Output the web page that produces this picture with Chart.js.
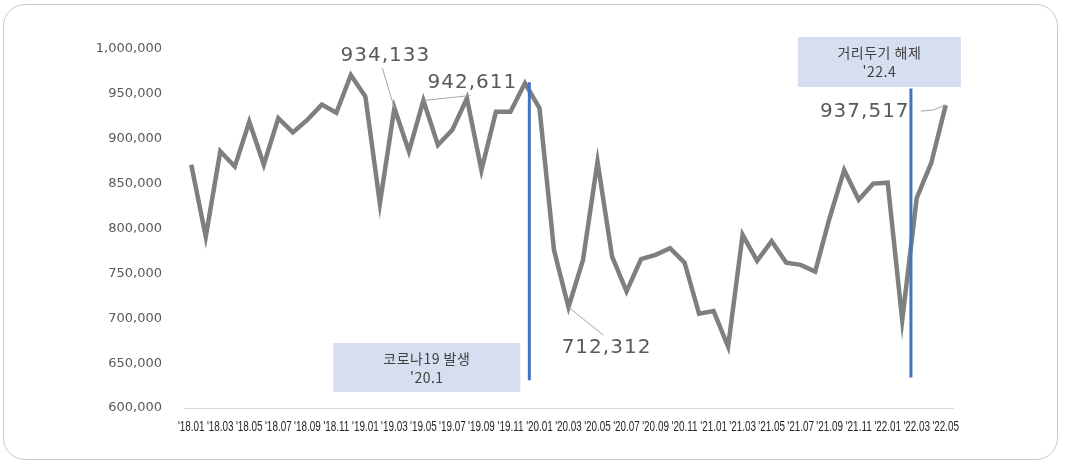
<!DOCTYPE html>
<html lang="ko">
<head>
<meta charset="UTF-8">
<title>월별 추이</title>
<style>
  body { margin: 0; background: #fff; }
  .wrap { position: relative; width: 1065px; height: 466px; }
  .frame {
    position: absolute; left: 3px; top: 4px; width: 1055px; height: 456px;
    border: 1px solid #c9c9c9; border-radius: 22px; box-sizing: border-box;
  }
  canvas { position: absolute; left: 0; top: 0; }
</style>
</head>
<body>
<div class="wrap">
  <div class="frame"></div>
  <canvas id="chart" width="1065" height="466"></canvas>
</div>
<script src="https://cdn.jsdelivr.net/npm/chart.js"></script>
<script>
// months '18.01 .. '22.05
const months = [];
for (let y = 18; y <= 22; y++) {
  for (let m = 1; m <= 12; m++) {
    if (y === 22 && m > 5) break;
    months.push("'" + y + '.' + String(m).padStart(2, '0'));
  }
}

const values = [
  871000, 791000, 886000, 869000, 919000, 871000, 923000, 907000, 921000, 938000, 929000, 971000,
  947000, 828000, 934133, 886000, 942611, 893000, 910000, 945000, 865000, 930000, 930000, 962000,
  934000, 776000, 712312, 765000, 874500, 769000, 730000, 766000, 770600, 778000, 762000, 705000,
  708000, 668500, 793000, 764000, 786000, 762000, 759500, 752000, 812000, 865000, 832000, 850000,
  851000, 698000, 834000, 873000, 937517
];

// callouts: point index, text, text offset from point, leader line points (offsets)
const callouts = [
  { i: 14, text: '934,133', dx: -9, dy: -52, leader: [[-12, -40], [0, 0]] },
  { i: 16, text: '942,611', dx: 49, dy: -18, leader: [[0, 0], [47, -5]] },
  { i: 26, text: '712,312', dx: 38, dy: 41, leader: [[0, 0], [35, 28]] },
  { i: 52, text: '937,517', dx: -81, dy: 7, leader: [[-25, 6], [-13, 5], [0, 0]] }
];

// event markers: x position (index), top/bottom values, box text
const events = [
  { x: 23.3, top: 963000, bottom: 631000, lines: ['코로나19 발생', "'20.1"], box: [-196, 343, 187, 49] },
  { x: 49.6, top: 956000, bottom: 634000, lines: ['거리두기 해제', "'22.4"], box: [-113, 37, 163, 50] }
];

const annotate = {
  id: 'annotate',
  afterDatasetsDraw(chart) {
    const ctx = chart.ctx;
    const xs = chart.scales.x, ys = chart.scales.y;
    const meta = chart.getDatasetMeta(0);
    ctx.save();

    events.forEach(ev => {
      const px = xs.getPixelForValue(ev.x);
      ctx.fillStyle = '#d6dff0';
      ctx.fillRect(px + ev.box[0], ev.box[1], ev.box[2], ev.box[3]);
      ctx.fillStyle = '#404040';
      ctx.font = '14px "Noto Sans CJK KR", "Noto Sans", sans-serif';
      ctx.letterSpacing = '0.5px';
      ctx.textAlign = 'center';
      ctx.textBaseline = 'middle';
      const cx = px + ev.box[0] + ev.box[2] / 2;
      const cy = ev.box[1] + ev.box[3] / 2;
      ctx.fillText(ev.lines[0], cx, cy - 9);
      ctx.fillText(ev.lines[1], cx, cy + 10);
      ctx.letterSpacing = '0px';
      ctx.strokeStyle = '#4472c4';
      ctx.lineWidth = 3;
      ctx.beginPath();
      ctx.moveTo(px, ys.getPixelForValue(ev.top));
      ctx.lineTo(px, ys.getPixelForValue(ev.bottom));
      ctx.stroke();
    });

    callouts.forEach(c => {
      const pt = meta.data[c.i];
      ctx.strokeStyle = '#a6a6a6';
      ctx.lineWidth = 1;
      ctx.beginPath();
      c.leader.forEach((o, k) => {
        if (k === 0) ctx.moveTo(pt.x + o[0], pt.y + o[1]);
        else ctx.lineTo(pt.x + o[0], pt.y + o[1]);
      });
      ctx.stroke();
      ctx.fillStyle = '#595959';
      ctx.font = '20px "DejaVu Sans", sans-serif';
      ctx.letterSpacing = '1px';
      ctx.textAlign = 'center';
      ctx.textBaseline = 'middle';
      ctx.fillText(c.text, pt.x + c.dx, pt.y + c.dy);
      ctx.letterSpacing = '0px';
    });

    // condensed x tick labels, placed on the scale's own tick positions
    ctx.fillStyle = '#262626';
    ctx.font = '15px "Liberation Sans", Arial, sans-serif';
    ctx.textAlign = 'center';
    ctx.textBaseline = 'middle';
    const ty = xs.top + 19;
    months.forEach((m, i) => {
      if (i % 2) return;
      const tx = xs.getPixelForTick(i);
      ctx.save();
      ctx.translate(tx, ty);
      ctx.scale(0.66, 1);
      ctx.fillText(m, 0, 0);
      ctx.restore();
    });
    ctx.restore();
  }
};

new Chart(document.getElementById('chart'), {
  type: 'line',
  data: {
    labels: months,
    datasets: [{
      data: values,
      borderColor: '#7f7f7f',
      borderWidth: 4.5,
      pointRadius: 0,
      tension: 0
    }]
  },
  options: {
    responsive: false,
    animation: false,
    layout: { padding: { top: 49, right: 112, bottom: 28, left: 0 } },
    plugins: { legend: { display: false }, tooltip: { enabled: false } },
    scales: {
      x: {
        offset: true,
        grid: { display: false, drawTicks: false },
        border: { display: true, color: '#d9d9d9', width: 1 },
        afterFit(scale) { scale.height = 30; },
        ticks: {
          autoSkip: false,
          maxRotation: 0,
          minRotation: 0,
          padding: 12,
          color: 'rgba(0,0,0,0)',
          font: { size: 12 },
          callback(v, i) { return i % 2 === 0 ? months[i] : ''; }
        }
      },
      y: {
        min: 600000,
        max: 1000000,
        grid: { display: false, drawTicks: false },
        border: { display: false },
        afterFit(scale) { scale.width = 184; },
        ticks: {
          stepSize: 50000,
          padding: 22,
          color: '#595959',
          font: { family: '"DejaVu Sans", sans-serif', size: 13 },
          callback(v) { return v.toLocaleString('en-US'); }
        }
      }
    }
  },
  plugins: [annotate]
});
</script>
</body>
</html>
